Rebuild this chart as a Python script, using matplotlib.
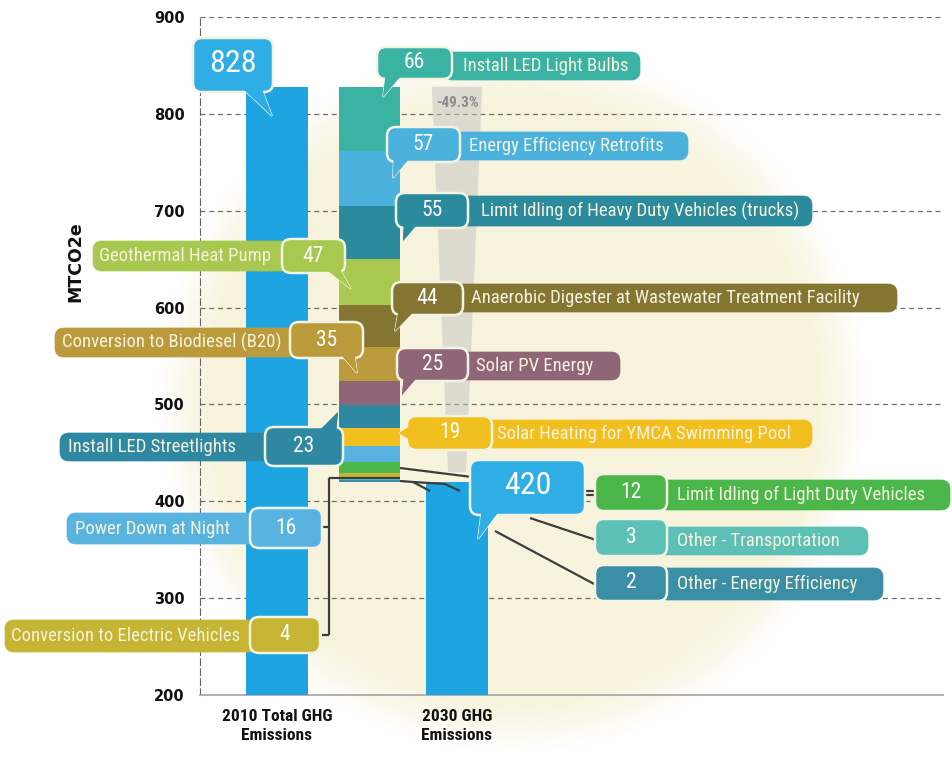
import matplotlib
matplotlib.use("Agg")
import matplotlib.pyplot as plt
import numpy as np
from matplotlib.patches import FancyBboxPatch, Polygon
from matplotlib import font_manager as fm

# ---------------- data ----------------
bar_labels = ["2010 Total GHG\nEmissions", "2030 GHG\nEmissions"]
total_2010 = 828
total_2030 = 420
pct_label = "-49.3%"
y_label = "MTCO2e"
yticks = [200, 300, 400, 500, 600, 700, 800, 900]

measures = ["Install LED Light Bulbs", "Energy Efficiency Retrofits",
            "Limit Idling of Heavy Duty Vehicles (trucks)", "Geothermal Heat Pump",
            "Anaerobic Digester at Wastewater Treatment Facility", "Conversion to Biodiesel (B20)",
            "Solar PV Energy", "Install LED Streetlights", "Solar Heating for YMCA Swimming Pool",
            "Power Down at Night", "Limit Idling of Light Duty Vehicles",
            "Conversion to Electric Vehicles", "Other - Transportation", "Other - Energy Efficiency"]
reductions = [66, 57, 55, 47, 44, 35, 25, 23, 19, 16, 12, 4, 3, 2]
seg_colors = ["#3bb3a4", "#4ab2dc", "#2b8a9b", "#a8c84f", "#857533", "#bb9a3c", "#8e6677",
              "#2f88a1", "#f2c01e", "#58b3e0", "#4bb74a", "#c5b532", "#5cc0b6", "#3a8ea5"]
total_color = "#1ea5e1"
bubble_blue = "#2eaee5"

# ---------------- fonts ----------------
names = {f.name for f in fm.fontManager.ttflist}
COND = "DejaVu Sans"
for cand in ["Liberation Sans Narrow", "Roboto Condensed", "Open Sans Condensed", "DejaVu Sans"]:
    if cand in names:
        COND = cand
        break
plt.rcParams["font.family"] = ["DejaVu Sans"]

W, H = 953, 760
fig = plt.figure(figsize=(W / 100, H / 100), dpi=100)
fig.patch.set_facecolor("white")

# background soft cream disc
bg = fig.add_axes([0, 0, 1, 1], zorder=0)
bg.set_xlim(0, W); bg.set_ylim(H, 0); bg.axis("off")
yy, xx = np.mgrid[0:H, 0:W]
cx, cy, r = 512, 398, 355
d = np.hypot(xx - cx, yy - cy) / r
alpha = np.clip((1.0 - d) / 0.14, 0, 1)
img = np.zeros((H, W, 4))
img[..., 0] = 0.972; img[..., 1] = 0.953; img[..., 2] = 0.865
img[..., 3] = alpha * 0.95
bg.imshow(img, extent=(0, W, H, 0), interpolation="bilinear")

# ---------------- main axes ----------------
ax = fig.add_axes([200 / W, (H - 695) / H, 743 / W, 678 / H], zorder=1)
ax.patch.set_alpha(0)
ax.set_ylim(200, 900)
ax.set_xlim((200 - 277) / 90, (943 - 277) / 90)
xpos = [0.0, 1.03, 2.0]
ax.set_yticks(yticks)
ax.set_yticklabels([str(v) for v in yticks], fontsize=10.5, fontweight="bold", color="#111")
ax.tick_params(axis="y", length=0, pad=11)
ax.tick_params(axis="x", length=0, pad=10)
ax.yaxis.grid(True, linestyle=(0, (4, 3)), color="#555", lw=0.9, alpha=0.85)
ax.set_axisbelow(True)
for s in ["top", "right"]:
    ax.spines[s].set_visible(False)
ax.spines["left"].set_linestyle((0, (6, 3)))
ax.spines["left"].set_color("#666")
ax.spines["bottom"].set_color("#aaa")
ax.spines["bottom"].set_linewidth(1.3)

bw = 0.68
ax.bar([xpos[0], xpos[2]], [total_2010, total_2030], width=bw, color=total_color, zorder=3)
bottoms = total_2010 - np.cumsum(reductions)
ax.bar(np.full(len(reductions), xpos[1]), reductions, bottom=bottoms, width=bw,
       color=seg_colors, zorder=3)

# gray reduction wedge
ax.add_patch(Polygon([(1.72, total_2010), (2.28, total_2010), (2.1, total_2030 + 10), (1.9, total_2030 + 10)],
                     closed=True, fc="#c4c4c4", ec="none", alpha=0.5, zorder=2))
ax.text(2.0, 811, pct_label, ha="center", va="center", fontsize=11, fontweight="bold",
        color="#8a8a8a", family=[COND, "DejaVu Sans"], zorder=4)

ax.set_xticks([xpos[0], xpos[2]])
ax.set_xticklabels(bar_labels, fontsize=12.5, fontweight="bold", color="#111",
                   family=[COND, "DejaVu Sans"], linespacing=1.35)
fig.text(75 / W, 1 - 262 / H, y_label, rotation=90, ha="center", va="center",
         fontsize=12.5, fontweight="bold", color="#111")

# ---------------- overlay for callouts ----------------
ov = fig.add_axes([0, 0, 1, 1], zorder=2)
ov.set_xlim(0, W); ov.set_ylim(H, 0); ov.axis("off")
ov.patch.set_alpha(0)
renderer = fig.canvas.get_renderer()


def fit_text(x, y, s, width, cap, color, ha="left", weight="normal"):
    t = ov.text(x, y, s, fontsize=10, ha=ha, va="center", color=color,
                family=[COND, "DejaVu Sans"], fontweight=weight, zorder=8)
    w = t.get_window_extent(renderer).width
    t.set_fontsize(min(cap, 10 * width / w))
    return t


def box(x0, x1, y0, y1, color, border=True, z=5):
    rs = min(9, (y1 - y0) / 2.6)
    p = FancyBboxPatch((x0, y0), x1 - x0, y1 - y0, boxstyle=f"round,pad=0,rounding_size={rs}",
                       fc=color, ec="#f3f3e4" if border else color, lw=1.8 if border else 0.5, zorder=z)
    ov.add_patch(p)


def tail(pts, color, z=5):
    ov.add_patch(Polygon(pts, closed=True, fc=color, ec="#f3f3e4", lw=1.2, zorder=z))
    ov.add_patch(Polygon(pts, closed=True, fc=color, ec="none", zorder=z + 0.5))


# connectors
lc = "#3d3d3d"
conn = [
    [(322, 527), (329, 527)], [(322, 635), (329, 635)], [(329, 478), (329, 635)],
    [(329, 478), (400, 478)],
    [(400, 468), (472, 477)],
    [(400, 481), (413, 482), (430, 491)], [(413, 482), (445, 484), (460, 491)],
    [(530, 518), (596, 540)], [(495, 531), (596, 585)],
    [(585, 491), (596, 491)], [(585, 495), (596, 495)],
]
for c in conn:
    c = np.array(c)
    ov.plot(c[:, 0], c[:, 1], color=lc, lw=1.6, zorder=4, solid_capstyle="butt")

# layout: (side, num box, label box, text span, tail polygon)
layout = {
    0: ("R", (377, 452, 47, 79), (444, 640, 52, 80), (463, 636), [(386, 72), (404, 72), (383, 97)]),
    1: ("R", (387, 460, 127, 162), (452, 688, 132, 160), (469, 684), [(394, 155), (412, 155), (393, 178)]),
    2: ("R", (396, 468, 193, 228), (460, 812, 196, 226), (481, 806), [(404, 221), (420, 221), (403, 241)]),
    4: ("R", (392, 463, 282, 315), (455, 897, 284, 312), (471, 884), [(399, 308), (417, 308), (395, 331)]),
    6: ("R", (397, 468, 348, 381), (460, 620, 352, 380), (476, 603), [(404, 374), (420, 374), (402, 395)]),
    8: ("R", (407, 492, 416, 450), (484, 812, 420, 448), (497, 806), [(412, 425), (412, 441), (399, 433)]),
    10: ("R", (595, 667, 474, 511), (659, 950, 480, 510), (677, 931), None),
    12: ("R", (595, 667, 519, 556), (659, 868, 527, 555), (677, 844), None),
    13: ("R", (595, 667, 565, 601), (659, 883, 568, 600), (677, 859), None),
    3: ("L", (282, 345, 239, 273), (93, 292, 241, 271), (99, 276), [(322, 266), (338, 266), (351, 289)]),
    5: ("L", (290, 363, 322, 358), (55, 298, 328, 357), (62, 289), [(338, 351), (354, 351), (357, 373)]),
    7: ("L", (265, 343, 427, 466), (60, 273, 433, 461), (68, 262), [(316, 434), (336, 434), (338, 412)]),
    9: ("L", (250, 322, 508, 548), (67, 258, 513, 544), (75, 241), None),
    11: ("L", (250, 320, 617, 653), (5, 258, 620, 652), (11, 241), None),
}

label_fc = "#f4f2dc"
for i, (side, nb, lb, span, tl) in layout.items():
    col = seg_colors[i]
    box(lb[0], lb[1], lb[2], lb[3], col, border=False, z=5)
    if tl is not None:
        tail(tl, col, z=5.6)
    box(nb[0], nb[1], nb[2], nb[3], col, border=True, z=6)
    if tl is not None:
        ov.add_patch(Polygon(tl, closed=True, fc=col, ec="none", zorder=6.5))
    fit_text(span[0], (lb[2] + lb[3]) / 2, measures[i], span[1] - span[0], 13.5, label_fc)
    ov.text((nb[0] + nb[1]) / 2, (nb[2] + nb[3]) / 2, str(reductions[i]), ha="center", va="center",
            fontsize=15.5, color="white", family=[COND, "DejaVu Sans"], zorder=8)

# big total bubbles
for val, bb, tl in [(total_2010, (193, 273, 38, 92), [(238, 84), (260, 84), (272, 116)]),
                    (total_2030, (470, 585, 460, 515), [(482, 507), (502, 507), (478, 539)])]:
    tail(tl, bubble_blue, z=5.6)
    box(bb[0], bb[1], bb[2], bb[3], bubble_blue, border=True, z=6)
    ov.add_patch(Polygon(tl, closed=True, fc=bubble_blue, ec="none", zorder=6.5))
    ov.text((bb[0] + bb[1]) / 2, (bb[2] + bb[3]) / 2 - 2, str(val), ha="center", va="center",
            fontsize=23, color="white", family=[COND, "DejaVu Sans"], zorder=8)

fig.savefig("out.png", dpi=100)
